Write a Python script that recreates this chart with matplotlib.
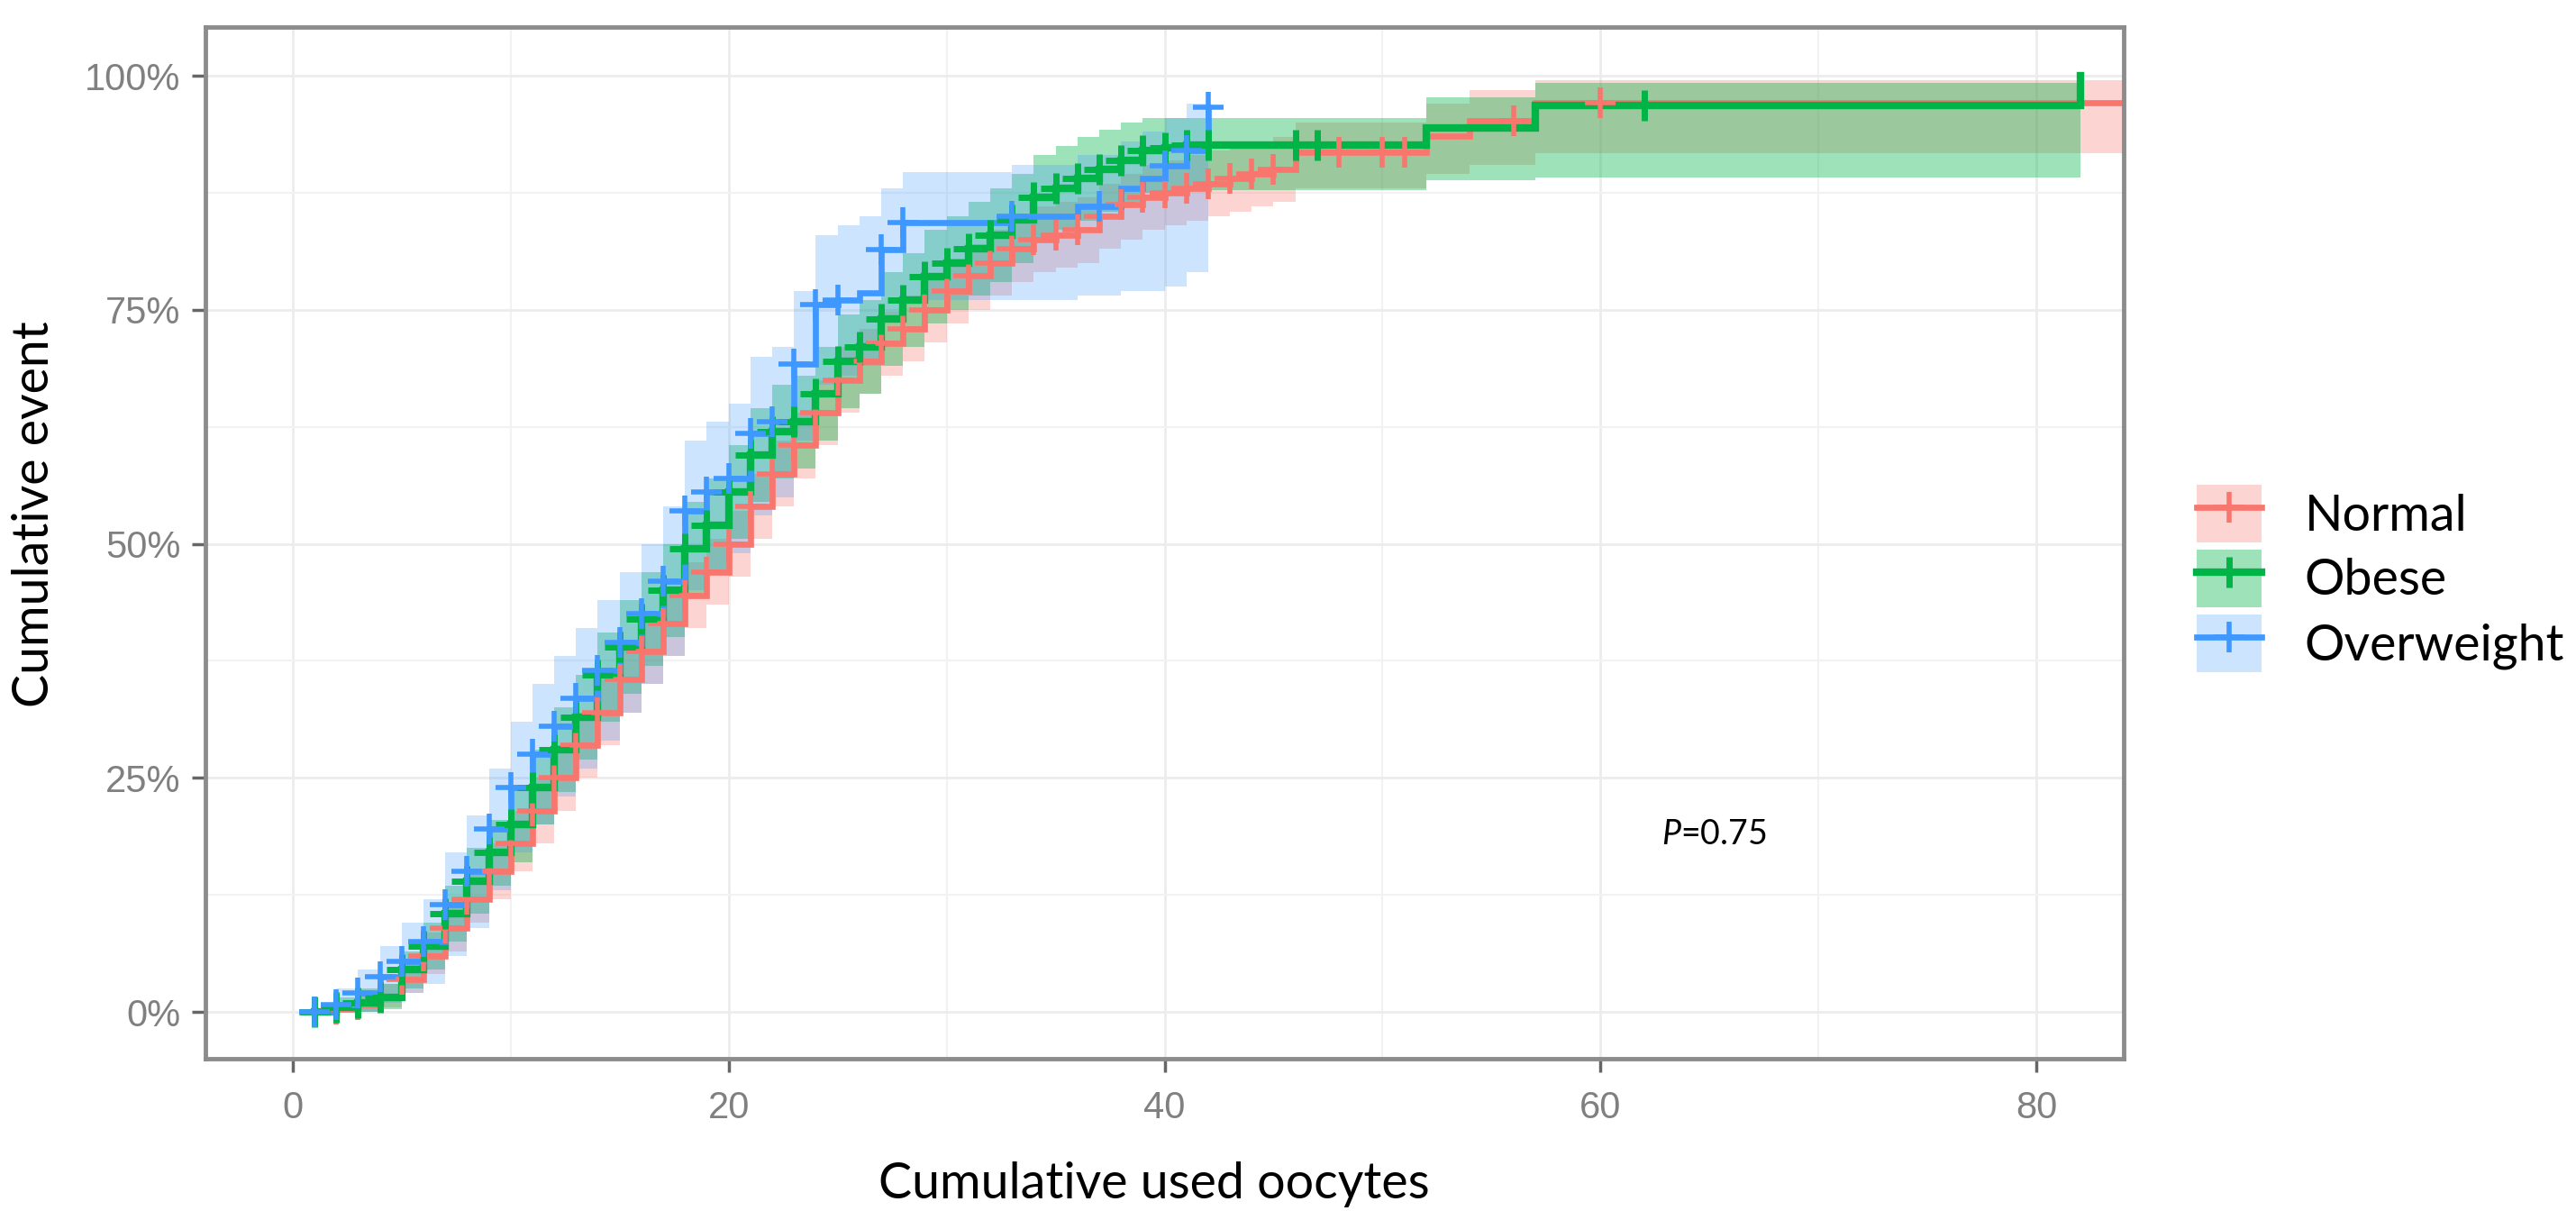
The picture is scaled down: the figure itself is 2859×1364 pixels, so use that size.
import numpy as np
import matplotlib
matplotlib.use("Agg")
import matplotlib.pyplot as plt
from matplotlib.lines import Line2D
from matplotlib.patches import Patch
from matplotlib.legend_handler import HandlerTuple
from matplotlib.ticker import MultipleLocator, FuncFormatter

plt.rcParams["mathtext.fontset"] = "custom"
plt.rcParams["mathtext.it"] = "Lato:italic"
plt.rcParams["mathtext.rm"] = "Lato"

# --- data (cumulative event, %) ---
groups = ["Normal", "Obese", "Overweight"]

# Normal
t_normal = list(range(1, 46)) + [46, 52, 54, 57, 86]
y_normal = [0, 0.3, 0.8, 1.5, 3.5, 6, 9, 12, 15, 18, 21.5, 25, 28.5, 32, 35.5, 38.5, 41.5, 44.5, 47, 50,
            54, 57.5, 60.5, 64, 67.5, 69.5, 71.4, 73, 75, 77, 78.6, 80, 81.5, 82.5, 83, 83.5, 85, 86.2, 87, 87.5,
            88, 88.5, 89, 89.5, 90] + [91.8, 93.6, 95.2, 97.1, 97.1]
lo_normal = [0, 0, 0, 0.5, 2, 4, 6.5, 9.5, 12, 15, 18, 21.5, 25, 28.5, 32, 35, 38, 41, 43.5, 46.5,
             50.5, 54, 57, 60.5, 64, 66, 68, 69.5, 71.5, 73.5, 75, 76.5, 78, 79, 79.5, 80, 81.5, 82.5, 83.5, 84,
             84.5, 85, 85.5, 86, 86.5] + [88, 89.5, 90.5, 91.7, 91.7]
hi_normal = [0, 1, 1.8, 3, 5.5, 8.5, 11.5, 15, 18, 21.5, 25, 28.5, 32, 35.5, 39, 42, 45, 48, 50.5, 53.5,
             57.5, 61, 64, 67.5, 71, 73, 74.8, 76.5, 78.5, 80.5, 82, 83.5, 85, 86, 86.5, 87, 88.5, 89.5, 90.5, 91,
             91.5, 92, 92.5, 93, 93.5] + [95, 97, 98.5, 99.5, 99.5]
cens_normal = list(range(1, 46)) + [48, 50, 51, 56, 60]

# Obese
t_obese = list(range(1, 43)) + [52, 57, 82]
y_obese = [0, 0.5, 1, 1.5, 4.5, 7, 10.5, 14, 17, 20, 24, 28, 31.5, 36, 39, 42, 45, 49.5, 52, 55.5,
           59.5, 62, 63, 66, 69.5, 71, 74, 76, 78.5, 80, 81.5, 83, 84.6, 87, 88, 89, 90, 91, 92, 92.3,
           92.6, 92.6] + [94.4, 96.8, 100]
lo_obese = [0, 0, 0, 0.3, 2.5, 4.5, 7.5, 10.5, 13.5, 16, 20, 23.5, 27, 31, 34, 37, 40, 44.5, 47, 50.5,
            54.5, 57, 58, 61, 64.5, 66, 69, 71, 73.5, 75, 76.5, 78, 80, 82.5, 83.5, 84.5, 85.5, 86.5, 87.5, 87.8,
            87.8, 87.8] + [88.8, 89.1, 89.1]
hi_obese = [0, 1.5, 2.5, 3, 6.5, 9.5, 13.5, 17.5, 20.5, 24, 28, 32.5, 36, 40.5, 44, 47, 50, 54.5, 57, 60.5,
            64.5, 67, 68, 71, 74.5, 76, 79, 81, 83.5, 85, 86.5, 88, 89.5, 91.5, 92.5, 93.5, 94.2, 95, 95.5, 95.5,
            95.5, 95.5] + [97.7, 99.2, 99.2]
cens_obese = list(range(1, 43)) + [46, 47, 62]

# Overweight
t_over = list(range(1, 43))
y_over = [0, 0.8, 2, 3.8, 5.4, 7.5, 11.5, 15, 19.5, 24, 27.5, 30.5, 33.5, 36.5, 39.5, 42.5, 46, 53.5, 55.5, 57,
          61.8, 63, 69.2, 75.6, 76, 76.8, 81.4, 84.3, 84.3, 84.3, 84.3, 84.3, 85, 85, 85, 86, 86, 88, 89, 90.4,
          92, 96.6]
lo_over = [0, 0, 0, 1, 2, 3, 6, 9, 13, 17, 20, 23, 26, 29, 32, 35, 38, 45, 47, 49,
           53, 55, 61, 67, 68, 69, 74, 76, 76, 76, 76, 76, 76, 76, 76, 76.5, 76.5, 77, 77, 77.5,
           79, 82]
hi_over = [0, 2.5, 4.5, 7, 9.5, 12, 17, 21, 26, 31, 35, 38, 41, 44, 47, 50, 54, 61, 63, 65,
           70, 71, 77, 83, 84, 85, 88, 89.7, 89.7, 89.7, 89.7, 89.7, 90.5, 90.5, 90.5, 91.5, 91.5, 93, 94, 95.5,
           97, 99.5]
cens_over = list(range(1, 26)) + [27, 28, 33, 37, 40, 41, 42]

p_text = "0.75"

colors = {"Normal": "#F8766D", "Obese": "#00B447", "Overweight": "#3E98FF"}
fill_alpha = {"Normal": 0.30, "Obese": 0.38, "Overweight": 0.26}
line_w = {"Normal": 4.8, "Obese": 6.0, "Overweight": 4.8}
mark_w = {"Normal": 4.0, "Obese": 5.0, "Overweight": 4.0}
mark_size = 24

series = {
    "Normal": (t_normal, y_normal, lo_normal, hi_normal, cens_normal),
    "Obese": (t_obese, y_obese, lo_obese, hi_obese, cens_obese),
    "Overweight": (t_over, y_over, lo_over, hi_over, cens_over),
}

fig = plt.figure(figsize=(28.59, 13.64), dpi=100)
ax = fig.add_axes([228 / 2859, 1 - 1175 / 1364, (2357 - 228) / 2859, (1175 - 30) / 1364])

# ribbons first, then step lines, then censor marks
for g in groups:
    t, y, lo, hi, c = series[g]
    ax.fill_between(t, np.array(lo) / 100, np.array(hi) / 100, step="post",
                    color=colors[g], alpha=fill_alpha[g], lw=0)
for g in groups:
    t, y, lo, hi, c = series[g]
    ax.step(t, np.array(y) / 100, where="post", color=colors[g], lw=line_w[g], solid_joinstyle="miter")
for g in groups:
    t, y, lo, hi, c = series[g]
    idx = np.searchsorted(t, c, side="right") - 1
    ax.plot(c, np.array(y)[idx] / 100, ls="none", marker="+", ms=mark_size, mew=mark_w[g], color=colors[g])

ax.set_xlim(-4, 84)
ax.set_ylim(-0.05, 1.052)
ax.xaxis.set_major_locator(MultipleLocator(20))
ax.xaxis.set_minor_locator(MultipleLocator(10))
ax.yaxis.set_major_locator(MultipleLocator(0.25))
ax.yaxis.set_minor_locator(MultipleLocator(0.125))
ax.yaxis.set_major_formatter(FuncFormatter(lambda v, p: f"{int(round(v * 100))}%"))

ax.set_axisbelow(True)
ax.grid(which="major", color="#ececec", lw=2.0)
ax.grid(which="minor", color="#f2f2f2", lw=1.5)
for s in ax.spines.values():
    s.set_color("#8c8c8c")
    s.set_linewidth(3.5)

ax.tick_params(which="minor", length=0)
ax.tick_params(axis="both", which="major", length=11, width=2.5, color="#666666",
               labelcolor="#808080", labelsize=30)
ax.tick_params(axis="y", pad=9)
ax.tick_params(axis="x", pad=14)
for lab in ax.get_xticklabels() + ax.get_yticklabels():
    lab.set_fontfamily("Liberation Sans")

ax.set_xlabel("Cumulative used oocytes", fontsize=40, family="Lato")
ax.xaxis.set_label_coords(0.4946, -0.122)
ax.xaxis.label.set_va("center")
ax.set_ylabel("Cumulative event", fontsize=40, family="Lato")
ax.yaxis.set_label_coords(-0.0888, 0.528)
ax.yaxis.label.set_va("center")

ax.text(65.2, 0.19, r"$\mathit{P}$=" + p_text, fontsize=27, family="Lato", ha="center", va="center")

handles = []
for g in groups:
    patch = Patch(facecolor=colors[g], alpha=fill_alpha[g], edgecolor="none")
    line = Line2D([], [], color=colors[g], lw=line_w[g], marker="+", ms=mark_size, mew=mark_w[g])
    handles.append((patch, line))
fig.legend(handles, groups, handler_map={tuple: HandlerTuple(ndivide=1, pad=0)},
           loc="center left", bbox_to_anchor=(2438 / 2859, 1 - 642 / 1364),
           frameon=False, borderpad=0, borderaxespad=0, prop={"family": "Lato", "size": 40},
           handlelength=1.3, handleheight=1.4, labelspacing=0.14, handletextpad=0.85, numpoints=1)

fig.savefig("out.png", dpi=100)
